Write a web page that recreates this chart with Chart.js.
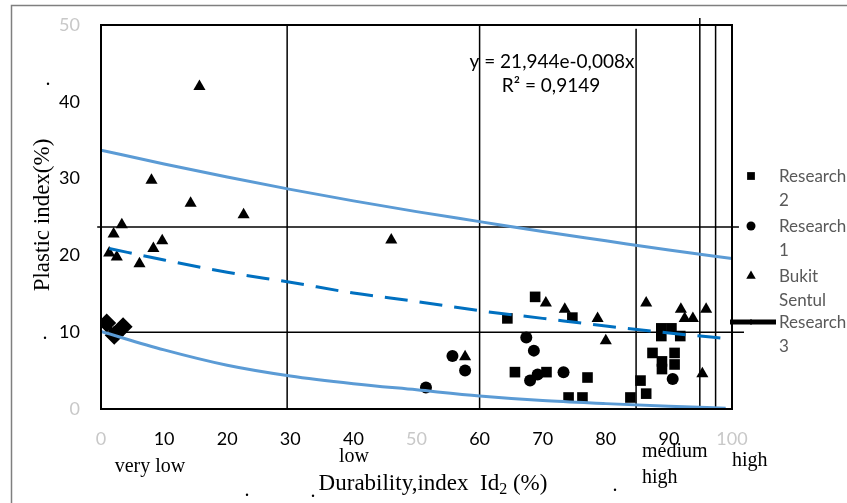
<!DOCTYPE html>
<html>
<head>
<meta charset="utf-8">
<script src="https://cdn.jsdelivr.net/npm/chart.js@4.4.1/dist/chart.umd.min.js"></script>
<style>
  html, body { margin: 0; padding: 0; background: #fff; }
</style>
</head>
<body>
<canvas id="durabilityChart" width="847" height="503"></canvas>
<script>
// --- data ---
const research2X = [64.4, 68.8, 74.7, 65.6, 70.6, 77.1, 74.1, 76.3, 83.9, 85.5, 86.4, 87.4, 88.9, 88.9, 90.9, 90.9, 88.8, 90.4, 88.8, 91.8];
const research2Y = [11.8, 14.6, 11.9, 4.8, 4.8, 4.1, 1.5, 1.5, 1.5, 3.7, 2.0, 7.3, 6.2, 5.2, 7.3, 5.8, 10.5, 10.5, 9.5, 9.5];

const research1X = [51.5, 55.7, 57.7, 67.4, 68.6, 68.0, 69.2, 73.3, 90.6];
const research1Y = [2.8, 6.9, 5.0, 9.3, 7.6, 3.7, 4.5, 4.8, 3.9];

const bukitX = [15.6, 8.0, 14.2, 22.6, 3.3, 2.0, 9.7, 8.3, 1.3, 2.5, 6.1, 46.0, 57.7, 70.5, 73.5, 78.7, 80.0, 86.4, 91.9, 92.5, 93.8, 95.9, 95.3];
const bukitY = [42.0, 29.8, 26.8, 25.3, 24.0, 22.8, 21.9, 20.9, 20.3, 19.8, 18.9, 22.0, 6.8, 13.8, 13.0, 11.8, 8.9, 13.8, 13.0, 11.8, 11.8, 13.0, 4.6];

const research3X = [0.9, 2.1, 3.5];
const research3Y = [11.2, 9.6, 10.7];

// trend lines
const trendX = [0, 10, 20, 30, 40, 50, 60, 70, 80, 90, 100];
const upperY = [33.7, 31.9, 30.2, 28.6, 27.1, 25.7, 24.4, 23.1, 21.9, 20.7, 19.6];
const fitX = [1.3, 10, 20, 30, 40, 50, 60, 70, 80, 90, 100];
const fitY = [20.9, 19.4, 17.8, 16.5, 15.1, 14.0, 12.8, 11.8, 10.8, 9.9, 9.1];
const lowerX = [0, 10, 20, 30, 40, 50, 60, 70, 80, 90, 99];
const lowerY = [10.1, 7.7, 5.7, 4.3, 3.3, 2.5, 1.7, 1.1, 0.7, 0.35, 0.1];

// class boundaries
const vBoundX = [29.5, 60, 84.8, 94.9, 97.4];
const vBoundTop = [50, 50, 49.5, 50.9, 50];
const hBoundY = [23.7, 10];
const hBoundFrom = [-0.6, 0];
const hBoundTo = [101.1, 101.9];

const xTicks = [0, 10, 20, 30, 40, 50, 60, 70, 80, 90, 100];
const yTicks = [0, 10, 20, 30, 40, 50];

function toPoints(xs, ys) {
    return xs.map((x, i) => ({ x: x, y: ys[i] }));
}

const datasets = [];

vBoundX.forEach((x, i) => {
    datasets.push({
        label: 'bound',
        data: [{ x: x, y: 0 }, { x: x, y: vBoundTop[i] }],
        showLine: true, borderColor: '#000', borderWidth: 1.5,
        pointRadius: 0, clip: false, order: 5
    });
});
hBoundY.forEach((y, i) => {
    datasets.push({
        label: 'bound',
        data: [{ x: hBoundFrom[i], y: y }, { x: hBoundTo[i], y: y }],
        showLine: true, borderColor: '#000', borderWidth: 1.5,
        pointRadius: 0, clip: false, order: 5
    });
});

datasets.push({
    label: 'Research 2',
    data: toPoints(research2X, research2Y),
    pointStyle: 'rect', pointRadius: 7.5,
    backgroundColor: '#000', borderColor: '#000', borderWidth: 0, order: 3
});
datasets.push({
    label: 'Research 1',
    data: toPoints(research1X, research1Y),
    pointStyle: 'circle', pointRadius: 6,
    backgroundColor: '#000', borderColor: '#000', borderWidth: 0, order: 3
});
datasets.push({
    label: 'Bukit Sentul',
    data: toPoints(bukitX, bukitY),
    pointStyle: 'triangle', pointRadius: 7,
    backgroundColor: '#000', borderColor: '#000', borderWidth: 0, order: 3
});
datasets.push({
    label: 'Research 3',
    data: toPoints(research3X, research3Y),
    showLine: true, borderColor: '#000', borderWidth: 5,
    pointStyle: 'rectRot', pointRadius: 6,
    backgroundColor: '#000', order: 3
});

datasets.push({
    label: 'upper',
    data: toPoints(trendX, upperY),
    showLine: true, borderColor: '#5B9BD5', borderWidth: 3,
    cubicInterpolationMode: 'monotone',
    pointRadius: 0, order: 1
});
datasets.push({
    label: 'fit',
    data: toPoints(fitX, fitY),
    showLine: true, borderColor: '#0070C0', borderWidth: 3, borderDash: [23, 12],
    cubicInterpolationMode: 'monotone',
    pointRadius: 0, order: 1
});
datasets.push({
    label: 'lower',
    data: toPoints(lowerX, lowerY),
    showLine: true, borderColor: '#5B9BD5', borderWidth: 3,
    cubicInterpolationMode: 'monotone',
    pointRadius: 0, order: 1
});

const decorations = {
    id: 'decorations',
    beforeDraw(chart) {
        const ctx = chart.ctx;
        ctx.save();
        ctx.fillStyle = '#fff';
        ctx.fillRect(0, 0, chart.width, chart.height);
        ctx.strokeStyle = '#7f7f7f';
        ctx.lineWidth = 1.5;
        ctx.strokeRect(11.5, 5.5, chart.width, chart.height);
        ctx.restore();
    },
    afterDatasetsDraw(chart) {
        const ctx = chart.ctx;
        const a = chart.chartArea;
        ctx.save();
        ctx.strokeStyle = '#000';
        ctx.lineWidth = 2;
        ctx.strokeRect(a.left, a.top, a.right - a.left, a.bottom - a.top);
        ctx.restore();
    },
    afterDraw(chart) {
        const ctx = chart.ctx;
        const helpers = Chart.helpers;
        ctx.save();

        // equation
        ctx.fillStyle = '#000';
        ctx.font = '19px Lato';
        ctx.textAlign = 'center';
        ctx.textBaseline = 'middle';
        ctx.fillText('y = 21,944e-0,008x', 552, 62);
        ctx.fillText('R\u00B2 = 0,9149', 551, 86);

        // class labels
        ctx.font = '20px "Liberation Serif"';
        ctx.fillText('very low', 150, 467);
        ctx.fillText('low', 354, 457);
        ctx.textAlign = 'left';
        ctx.fillText('medium', 642, 452);
        ctx.fillText('high', 642, 478);
        ctx.fillText('high', 732, 461);

        // x title with subscript
        const p1 = 'Durability,index  Id';
        const p3 = ' (%)';
        ctx.font = '23px "Liberation Serif"';
        const w1 = ctx.measureText(p1).width;
        const w3 = ctx.measureText(p3).width;
        ctx.font = '16px "Liberation Serif"';
        const w2 = ctx.measureText('2').width;
        let x0 = 433 - (w1 + w2 + w3) / 2;
        ctx.font = '23px "Liberation Serif"';
        ctx.fillText(p1, x0, 484);
        ctx.font = '16px "Liberation Serif"';
        ctx.fillText('2', x0 + w1, 490);
        ctx.font = '23px "Liberation Serif"';
        ctx.fillText(p3, x0 + w1 + w2, 484);

        // stray dots
        ctx.font = '20px "Liberation Serif"';
        ctx.textAlign = 'center';
        ctx.fillText('.', 48, 80);
        ctx.fillText('.', 45, 334);
        ctx.fillText('.', 247, 491);
        ctx.fillText('.', 313, 492);
        ctx.fillText('.', 615, 486);

        // y title
        ctx.save();
        ctx.font = '23px "Liberation Serif"';
        ctx.translate(43, 215);
        ctx.rotate(-Math.PI / 2);
        ctx.fillText('Plastic index(%)', 0, 0);
        ctx.restore();

        // legend
        const items = [
            { style: 'rect', r: 5.5, y: 176, lines: ['Research', '2'] },
            { style: 'circle', r: 4.5, y: 226, lines: ['Research', '1'] },
            { style: 'triangle', r: 5.5, y: 276, lines: ['Bukit', 'Sentul'] },
            { style: 'rectRot', r: 3, y: 322, lines: ['Research', '3'], line: true }
        ];
        items.forEach(it => {
            ctx.fillStyle = '#000';
            ctx.strokeStyle = '#000';
            if (it.line) {
                ctx.lineWidth = 5;
                ctx.beginPath();
                ctx.moveTo(730, it.y);
                ctx.lineTo(776, it.y);
                ctx.stroke();
            }
            ctx.lineWidth = 0;
            helpers.drawPoint(ctx, { pointStyle: it.style, radius: it.r, borderWidth: 0 }, 751, it.y);
            ctx.fillStyle = '#595959';
            ctx.font = '17px Lato';
            ctx.textAlign = 'left';
            ctx.textBaseline = 'middle';
            ctx.fillText(it.lines[0], 779, it.y + 1);
            ctx.fillText(it.lines[1], 779, it.y + 25);
        });

        ctx.restore();
    }
};

const faint = v => (v === 0 || v === 100 || v === 50) ? '#c8c8c8' : '#000';

new Chart(document.getElementById('durabilityChart').getContext('2d'), {
    type: 'scatter',
    data: { datasets: datasets },
    options: {
        responsive: false,
        animation: false,
        layout: { padding: { top: 25, right: 115, bottom: 0, left: 0 } },
        plugins: {
            legend: { display: false },
            tooltip: { enabled: false }
        },
        scales: {
            x: {
                type: 'linear', min: 0, max: 100,
                afterBuildTicks: scale => { scale.ticks = xTicks.map(v => ({ value: v })); },
                ticks: {
                    padding: 19,
                    font: { family: 'Lato', size: 18 },
                    color: c => faint(c.tick.value)
                },
                grid: { display: false, drawTicks: false },
                border: { display: false },
                afterFit: scale => {
                    scale.height = 94;
                    scale.paddingLeft = 0;
                    scale.paddingRight = 0;
                }
            },
            y: {
                type: 'linear', min: 0, max: 50,
                afterBuildTicks: scale => { scale.ticks = yTicks.map(v => ({ value: v })); },
                ticks: {
                    padding: 21,
                    font: { family: 'Lato', size: 18 },
                    color: c => faint(c.tick.value)
                },
                grid: { display: false, drawTicks: false },
                border: { display: false },
                afterFit: scale => {
                    scale.width = 101;
                    scale.paddingTop = 0;
                    scale.paddingBottom = 0;
                }
            }
        }
    },
    plugins: [decorations]
});
</script>
</body>
</html>
